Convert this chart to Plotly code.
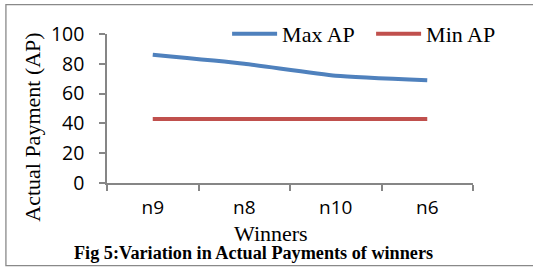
import plotly.graph_objects as go

winners = ["n9", "n8", "n10", "n6"]
max_ap = [86, 80, 72, 69]
min_ap = [43, 43, 43, 43]
y_ticks = [0, 20, 40, 60, 80, 100]

W, H = 533, 269
L, R, T, B = 107, 60.3, 34, 85.7
pw, ph = W - L - R, H - T - B

def px(x):
    return (x - L) / pw

def py(y):
    return (H - B - y) / ph

fig = go.Figure()
fig.add_trace(go.Scatter(x=winners, y=max_ap, mode="lines", name="Max AP",
                         line=dict(color="#4F81BD", width=4, shape="spline", smoothing=0.5)))
fig.add_trace(go.Scatter(x=winners, y=min_ap, mode="lines", name="Min AP",
                         line=dict(color="#C0504D", width=4)))

serif = "Liberation Serif"
sans = "Open Sans"

fig.update_layout(
    width=W, height=H,
    margin=dict(l=L, r=R, t=T, b=B, pad=0),
    paper_bgcolor="white", plot_bgcolor="white",
    showlegend=True,
    legend=dict(orientation="h", x=px(227), xanchor="left", y=1.001, yanchor="middle",
                font=dict(family=serif, size=22, color="black"),
                bgcolor="rgba(0,0,0,0)", itemwidth=45, entrywidth=84, tracegroupgap=0),
    xaxis=dict(type="category", range=[-0.5, 3.5], showgrid=False, showline=True,
               linecolor="#868686", linewidth=1.5, automargin=False,
               ticks="outside", tickson="boundaries", ticklen=6, tickcolor="#868686", tickwidth=1.5,
               tickfont=dict(family=sans, size=19, color="black"), ticklabelstandoff=6),
    yaxis=dict(range=[0, 100], tickvals=y_ticks, showgrid=False, showline=True, linecolor="#868686",
               linewidth=1.5, ticks="outside", ticklen=6, tickcolor="#868686", tickwidth=1.5,
               automargin=False,
               tickfont=dict(family=sans, size=19.5, color="black"), ticklabelstandoff=11, zeroline=False),
    annotations=[
        dict(text="Actual Payment (AP)", xref="paper", yref="paper", x=px(33), y=py(127),
             xanchor="center", yanchor="middle", textangle=-90, showarrow=False,
             font=dict(family=serif, size=22, color="black")),
        dict(text="Winners", xref="paper", yref="paper", x=px(271.3), y=py(233.5),
             xanchor="center", yanchor="middle", showarrow=False,
             font=dict(family=serif, size=22, color="black")),
        dict(text="<b>Fig 5:Variation in Actual Payments of winners</b>", xref="paper", yref="paper",
             x=px(253.5), y=py(253.2), xanchor="center", yanchor="middle", showarrow=False,
             font=dict(family=serif, size=18.2, color="black")),
    ],
    shapes=[
        dict(type="rect", xref="paper", yref="paper", x0=px(6), x1=px(540), y0=py(266), y1=py(4.5),
             line=dict(color="#898989", width=1.3), fillcolor="rgba(0,0,0,0)", layer="below"),
    ],
)

fig.write_html("out.html", config={"displayModeBar": False},
               post_script="document.body.style.margin='0';")
